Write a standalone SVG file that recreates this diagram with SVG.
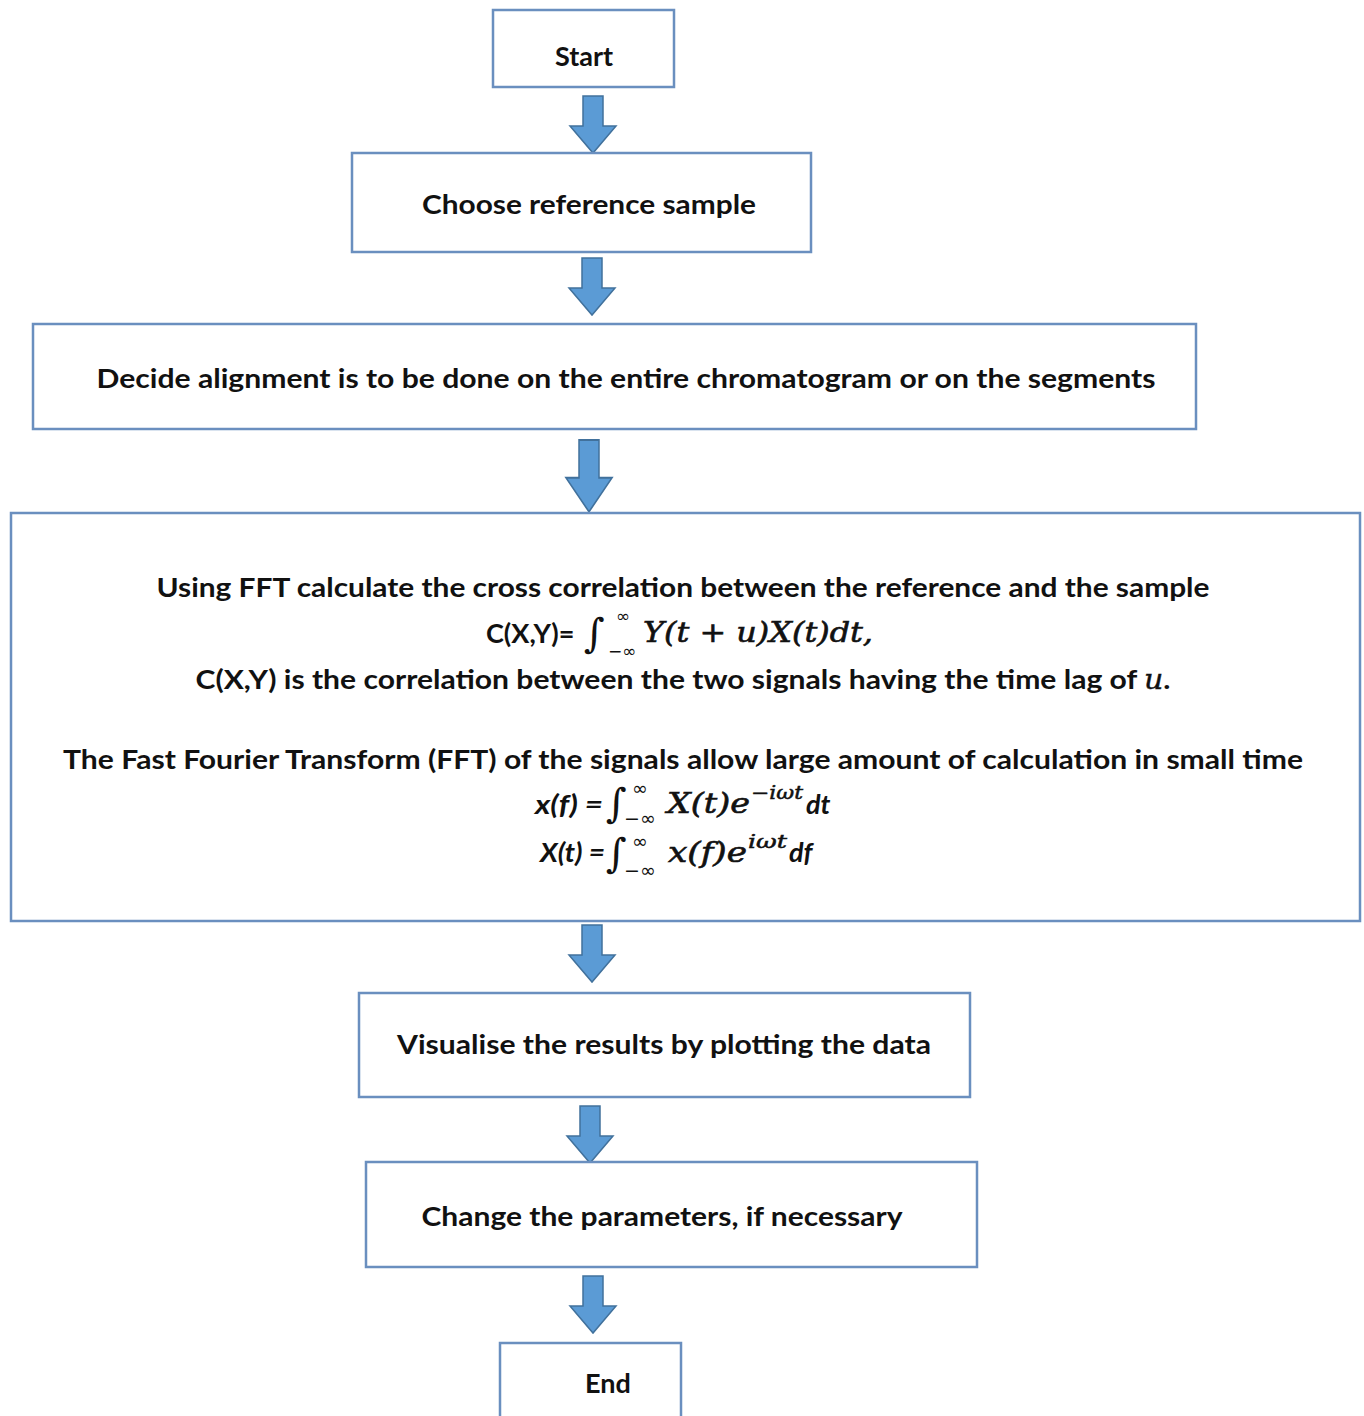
<svg xmlns="http://www.w3.org/2000/svg" width="1364" height="1416" viewBox="0 0 1364 1416">
<style>
.box{fill:#fff;stroke:#6a8fbf;stroke-width:2.5}
.t{font-family:Lato,"Open Sans",sans-serif;font-weight:bold;font-size:27px;fill:#111;text-anchor:middle}
.ts{font-family:Lato,"Open Sans",sans-serif;font-weight:bold;font-size:27px;fill:#111}
.m{font-family:"DejaVu Serif",serif;font-style:italic;font-size:27px;fill:#111;stroke:#111;stroke-width:0.6}
.mu{font-family:"DejaVu Serif",serif;font-style:italic;font-weight:normal;font-size:27px;fill:#111;stroke:#111;stroke-width:0.4}
.sup{font-family:"DejaVu Serif",serif;font-style:italic;font-size:18px;fill:#111;stroke:#111;stroke-width:0.5}
.int{font-family:"DejaVu Serif",serif;font-size:40px;fill:#111}
.lim1{font-family:"DejaVu Sans",sans-serif;font-size:17px;fill:#111}
.lim{font-family:"DejaVu Sans",sans-serif;font-size:19px;fill:#111}
.bi{font-family:Lato,"Open Sans",sans-serif;font-weight:bold;font-style:italic;font-size:27px;fill:#111}
.arr{fill:#5b9bd5;stroke:#41719c;stroke-width:1.5}
</style>
<defs>
<path id="a" d="M-10,0 H10 V30 H23 L0,57 L-23,30 H-10 Z"/>
</defs>
<rect width="1364" height="1416" fill="#fff"/>
<g id="connectors">
<use href="#a" class="arr" x="593" y="96"/>
<use href="#a" class="arr" x="592" y="258"/>
<use href="#a" class="arr" transform="translate(589,440) scale(1,1.26)"/>
<use href="#a" class="arr" x="592" y="925"/>
<use href="#a" class="arr" x="590" y="1106"/>
<use href="#a" class="arr" x="593" y="1276"/>
</g>
<g id="start"><rect class="box" x="493" y="10" width="181" height="77"/><text class="t" x="584" y="66">Start</text></g>
<g id="choose"><rect class="box" x="352" y="153" width="459" height="99"/><text class="t" x="589" y="214" textLength="334" lengthAdjust="spacingAndGlyphs">Choose reference sample</text></g>
<g id="decide"><rect class="box" x="33" y="324" width="1163" height="105"/><text class="t" x="626" y="388" textLength="1059" lengthAdjust="spacingAndGlyphs">Decide alignment is to be done on the entire chromatogram or on the segments</text></g>
<g id="fft"><rect class="box" x="11" y="513" width="1349" height="408"/>
<text class="t" x="683" y="597" textLength="1053" lengthAdjust="spacingAndGlyphs">Using FFT calculate the cross correlation between the reference and the sample</text>
<text class="ts" x="486" y="643">C(X,Y)=</text>
<text class="int" x="584" y="647">∫</text><text class="lim1" x="616" y="622">∞</text><text class="lim1" x="608" y="657">−∞</text>
<text class="m" x="643" y="642" textLength="230" lengthAdjust="spacingAndGlyphs">Y(t + u)X(t)dt,</text>
<text class="t" x="683" y="689" textLength="975" lengthAdjust="spacingAndGlyphs">C(X,Y) is the correlation between the two signals having the time lag of <tspan class="mu">u</tspan>.</text>
<text class="t" x="683" y="769" textLength="1240" lengthAdjust="spacingAndGlyphs">The Fast Fourier Transform (FFT) of the signals allow large amount of calculation in small time</text>
<text class="bi" x="535" y="814" textLength="68" lengthAdjust="spacingAndGlyphs">x(f) =</text>
<text class="int" x="606" y="817">∫</text><text class="lim" x="632" y="795">∞</text><text class="lim" x="624" y="825">−∞</text>
<text class="m" x="667" y="813" textLength="83" lengthAdjust="spacingAndGlyphs">X(t)e</text><text class="sup" x="751" y="799" textLength="52" lengthAdjust="spacingAndGlyphs">−iωt</text><text class="bi" x="806" y="814">dt</text>
<text class="bi" x="540" y="862" textLength="65" lengthAdjust="spacingAndGlyphs">X(t) =</text>
<text class="int" x="606" y="867">∫</text><text class="lim" x="632" y="848">∞</text><text class="lim" x="624" y="877">−∞</text>
<text class="m" x="668" y="862" textLength="79" lengthAdjust="spacingAndGlyphs">x(f)e</text><text class="sup" x="748" y="848" textLength="39" lengthAdjust="spacingAndGlyphs">iωt</text><text class="bi" x="789" y="862">df</text>
</g>
<g id="visualise"><rect class="box" x="359" y="993" width="611" height="104"/><text class="t" x="664" y="1054" textLength="534" lengthAdjust="spacingAndGlyphs">Visualise the results by plotting the data</text></g>
<g id="change"><rect class="box" x="366" y="1162" width="611" height="105"/><text class="t" x="662" y="1226" textLength="481" lengthAdjust="spacingAndGlyphs">Change the parameters, if necessary</text></g>
<g id="end"><rect class="box" x="500" y="1343" width="181" height="90"/><text class="t" x="608" y="1393">End</text></g>
</svg>
